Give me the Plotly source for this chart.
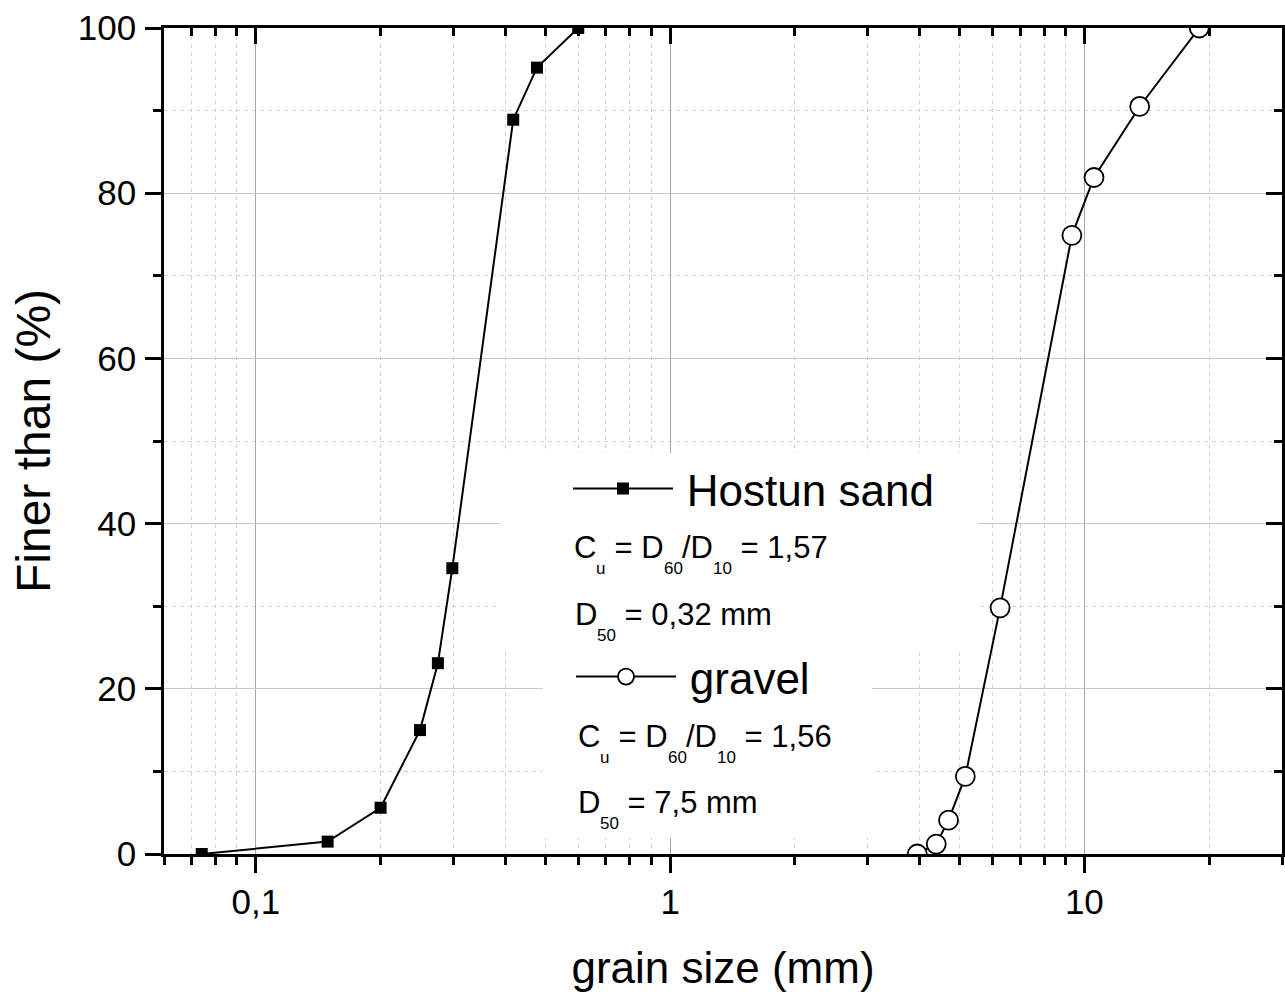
import math
import plotly.graph_objects as go

# ---------------- data ----------------
sand_size = [0.074, 0.149, 0.2, 0.249, 0.275, 0.298, 0.418, 0.477, 0.6]
sand_finer = [0, 1.5, 5.6, 15.0, 23.1, 34.6, 88.9, 95.2, 100]

gravel_size = [3.95, 4.39, 4.70, 5.16, 6.26, 9.33, 10.55, 13.6, 18.94]
gravel_finer = [0, 1.2, 4.1, 9.4, 29.8, 74.9, 81.9, 90.5, 100]

x_major = [0.1, 1, 10]
x_major_text = ["0,1", "1", "10"]
x_minor = [0.06, 0.07, 0.08, 0.09, 0.2, 0.3, 0.4, 0.5, 0.6, 0.7, 0.8, 0.9,
           2, 3, 4, 5, 6, 7, 8, 9, 20, 30]
y_major = [0, 20, 40, 60, 80, 100]
y_minor = [10, 30, 50, 70, 90]
x_range = [0.06, 30]
y_range = [0, 100]

# ---------------- layout geometry ----------------
W, H = 1285, 997
ML, MR, MT, MB = 164, 3, 28, 143
PW = W - ML - MR
PH = H - MT - MB
FONT = "Liberation Sans, Arial, sans-serif"


def px2x(p):
    return (p - ML) / PW


def px2y(p):
    return (H - MB - p) / PH


fig = go.Figure()
fig.add_trace(go.Scatter(
    x=sand_size, y=sand_finer, mode="lines+markers", name="\u2009Hostun sand",
    line=dict(color="black", width=2),
    marker=dict(symbol="square", size=12, color="black"),
    legend="legend"))
fig.add_trace(go.Scatter(
    x=gravel_size, y=gravel_finer, mode="lines+markers", name="\u2009gravel",
    line=dict(color="black", width=2),
    marker=dict(symbol="circle", size=19, color="white",
                line=dict(color="black", width=1.8)),
    legend="legend2"))
# invisible copy so that the mirrored (top / right) axes get drawn
fig.add_trace(go.Scatter(
    x=sand_size, y=sand_finer, mode="markers", xaxis="x2", yaxis="y2",
    marker=dict(opacity=0), showlegend=False, hoverinfo="skip"))

lx = [math.log10(v) for v in x_range]
common_x = dict(type="log", range=lx, showline=True, linecolor="black",
                linewidth=2.5, zeroline=False, automargin=False)
common_y = dict(range=y_range, showline=True, linecolor="black",
                linewidth=2.5, zeroline=False, automargin=False)

fig.update_layout(
    width=W, height=H,
    margin=dict(l=ML, r=MR, t=MT, b=MB),
    plot_bgcolor="white", paper_bgcolor="white",
    font=dict(family=FONT, color="black"),
    xaxis=dict(
        **common_x, mirror=True,
        tickmode="array", tickvals=x_major, ticktext=x_major_text,
        ticks="outside", ticklen=16, tickwidth=2.5, tickcolor="black",
        tickfont=dict(size=35), ticklabelstandoff=-1,
        showgrid=True, gridcolor="#a8a8a8", gridwidth=1,
        minor=dict(tickmode="array", tickvals=x_minor, ticks="outside",
                   ticklen=8, tickwidth=2.5, tickcolor="black",
                   showgrid=True, gridcolor="#d2d2d2", gridwidth=1,
                   griddash="4px,4px"),
        title=dict(text="grain size (mm)", font=dict(size=44), standoff=33),
    ),
    xaxis2=dict(
        **common_x, overlaying="x", side="top", anchor="y2", matches="x",
        tickmode="array", tickvals=x_major, showticklabels=False,
        ticks="inside", ticklen=16, tickwidth=2.5, tickcolor="black",
        showgrid=False,
        minor=dict(tickmode="array", tickvals=x_minor, ticks="inside",
                   ticklen=8, tickwidth=2.5, tickcolor="black", showgrid=False),
    ),
    yaxis=dict(
        **common_y, mirror=True,
        tickmode="array", tickvals=y_major,
        ticks="outside", ticklen=16, tickwidth=2.5, tickcolor="black",
        tickfont=dict(size=35), ticklabelstandoff=2,
        showgrid=True, gridcolor="#c8c8c8", gridwidth=1,
        minor=dict(tickmode="array", tickvals=y_minor, ticks="outside",
                   ticklen=8, tickwidth=2.5, tickcolor="black",
                   showgrid=True, gridcolor="#d2d2d2", gridwidth=1,
                   griddash="4px,4px"),
        title=dict(text="Finer than (%)", font=dict(size=48), standoff=13),
    ),
    yaxis2=dict(
        **common_y, overlaying="y", side="right", anchor="x2", matches="y",
        tickmode="array", tickvals=y_major, showticklabels=False,
        ticks="inside", ticklen=16, tickwidth=2.5, tickcolor="black",
        showgrid=False,
        minor=dict(tickmode="array", tickvals=y_minor, ticks="inside",
                   ticklen=8, tickwidth=2.5, tickcolor="black", showgrid=False),
    ),
    legend=dict(x=px2x(568), y=px2y(489), xanchor="left", yanchor="middle",
                font=dict(size=44), itemwidth=100, bgcolor="rgba(0,0,0,0)",
                borderwidth=0, tracegroupgap=0),
    legend2=dict(x=px2x(571), y=px2y(677), xanchor="left", yanchor="middle",
                 font=dict(size=44), itemwidth=100, bgcolor="rgba(0,0,0,0)",
                 borderwidth=0, tracegroupgap=0),
    showlegend=True,
)

# white boxes behind the legend/text blocks (cover grid lines)
for (x0, y0, x1, y1) in [(500, 453, 978, 650), (543, 650, 872, 838)]:
    fig.add_shape(type="rect", xref="paper", yref="paper",
                  x0=px2x(x0), x1=px2x(x1), y0=px2y(y1), y1=px2y(y0),
                  fillcolor="white", line=dict(width=0), layer="above")

# ---------------- rich text with Origin-like subscripts ----------------
ADV = {' ': 278, '=': 584, 'C': 722, 'D': 722, '/': 278, ',': 278,
       'm': 833, 'u': 556, '.': 278}
for d in "0123456789":
    ADV[d] = 556


def text_width(s, size):
    return sum(ADV.get(c, 556) for c in s) * size / 1000.0


MAIN, SUB, DROP = 31, 17, 16


def rich_line(x_px, base_px, segments):
    x = x_px
    for txt, is_sub in segments:
        size = SUB if is_sub else MAIN
        base = base_px + (DROP if is_sub else 0)
        fig.add_annotation(text=txt, xref="paper", yref="paper",
                           x=px2x(x - 2), y=px2y(base - 0.35 * size),
                           xanchor="left", yanchor="middle", showarrow=False,
                           font=dict(size=size, family=FONT, color="black"))
        x += text_width(txt, size)


rich_line(574, 558, [("C", False), ("u", True), (" = D", False), ("60", True),
                     ("/D", False), ("10", True), (" = 1,57", False)])
rich_line(575, 625, [("D", False), ("50", True), (" = 0,32 mm", False)])
rich_line(578, 747, [("C", False), ("u", True), (" = D", False), ("60", True),
                     ("/D", False), ("10", True), (" = 1,56", False)])
rich_line(578, 813, [("D", False), ("50", True), (" = 7,5 mm", False)])

fig.write_html("out.html")
